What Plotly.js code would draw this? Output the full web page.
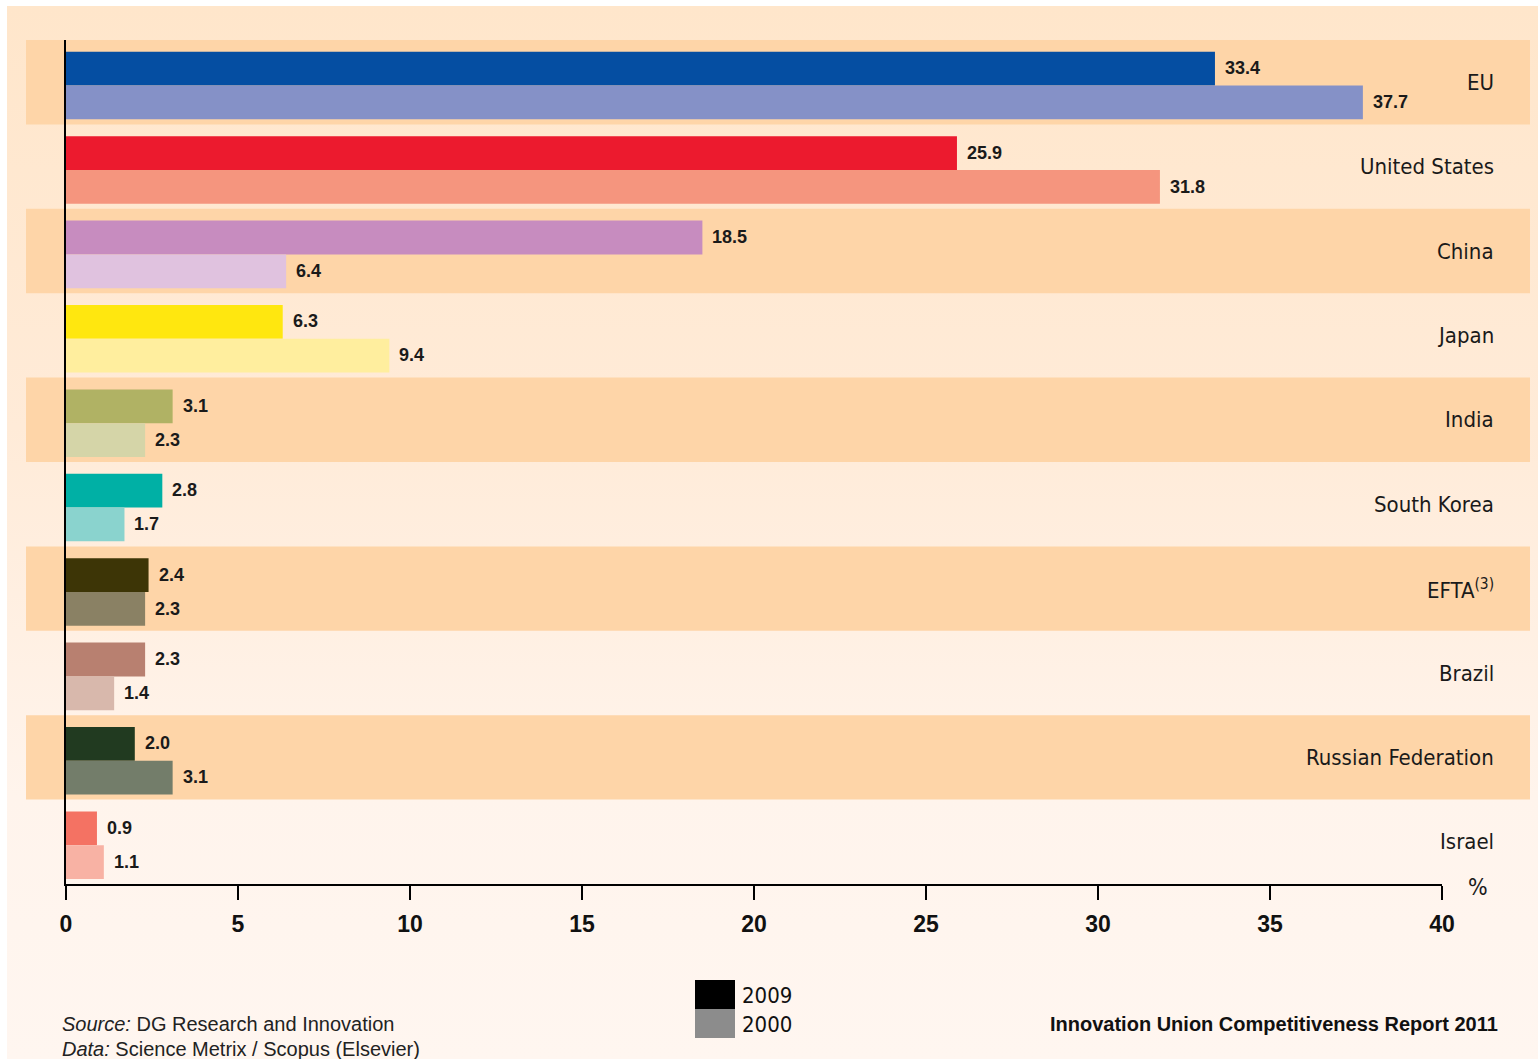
<!DOCTYPE html>
<html>
<head>
<meta charset="utf-8">
<script src="https://cdn.plot.ly/plotly-3.0.1.min.js"></script>
<style>
  html, body { margin: 0; padding: 0; background: #ffffff; }
  #wrap { position: relative; width: 1538px; height: 1059px; overflow: hidden; background: #ffffff; }
  #bg { position: absolute; left: 7px; top: 6px; right: 0; bottom: 0;
        background: linear-gradient(to bottom, #FFE6CB 0%, #FFEBD8 40%, #FFF4EC 75%, #FFF6F0 100%); }
  #chart { position: absolute; left: 0; top: 0; width: 1538px; height: 1059px; }
</style>
</head>
<body>
<div id="wrap">
  <div id="bg"></div>
  <div id="chart"></div>
</div>
<script>
// ---- data ----
const categories = ["EU", "United States", "China", "Japan", "India", "South Korea", "EFTA", "Brazil", "Russian Federation", "Israel"];
const categoryLabels = ["EU", "United States", "China", "Japan", "India", "South Korea", "EFTA<sup>(3)</sup>", "Brazil", "Russian Federation", "Israel"];
const values2009 = [33.4, 25.9, 18.5, 6.3, 3.1, 2.8, 2.4, 2.3, 2.0, 0.9];
const values2000 = [37.7, 31.8, 6.4, 9.4, 2.3, 1.7, 2.3, 1.4, 3.1, 1.1];
const colors2009 = ["#054EA2", "#EC1A2E", "#C78CBF", "#FFE70F", "#B0B264", "#00B0A5", "#3D3506", "#B88070", "#213A20", "#F47263"];
const colors2000 = ["#8591C7", "#F5957E", "#E0C2DF", "#FFEE9E", "#D5D5A8", "#8AD3CE", "#8A8164", "#D8B8AC", "#737D6A", "#F8B2A4"];
const xTicks = [0, 5, 10, 15, 20, 25, 30, 35, 40];
const legendYears = ["2009", "2000"];
const legendColors = ["#000000", "#8C8C8C"];

const condensed = "'Liberation Sans Narrow', 'DejaVu Sans Condensed', 'Roboto Condensed', sans-serif";
const sans = "'Liberation Sans', Arial, sans-serif";

const traces = [
  {
    type: "bar", orientation: "h", name: legendYears[0],
    y: categories, x: values2009, width: 0.4, offset: -0.36,
    marker: { color: colors2009, line: { width: 0 } },
    hoverinfo: "x+y", showlegend: false
  },
  {
    type: "bar", orientation: "h", name: legendYears[1],
    y: categories, x: values2000, width: 0.4, offset: 0.04,
    marker: { color: colors2000, line: { width: 0 } },
    hoverinfo: "x+y", showlegend: false
  }
];

const shapes = [];
const annotations = [];

// alternating background bands
categories.forEach((c, i) => {
  if (i % 2 === 0) {
    shapes.push({
      type: "rect", layer: "below", xref: "paper", yref: "y",
      x0: -40 / 1376, x1: 1464 / 1376, y0: i - 0.5, y1: i + 0.5,
      fillcolor: "#FED5A8", line: { width: 0 }
    });
  }
  // category label on right
  annotations.push({
    xref: "paper", yref: "y", x: 1430 / 1376, y: c, xanchor: "right", yanchor: "middle",
    text: categoryLabels[i], showarrow: false,
    font: { family: condensed, size: 22, color: "#1a1a1a" }
  });
  // value labels
  annotations.push({
    xref: "x", yref: "y", x: values2009[i], y: c, xanchor: "left", yanchor: "middle",
    xshift: 8, yshift: 14, text: values2009[i].toFixed(1), showarrow: false,
    font: { family: sans, size: 18, color: "#1a1a1a", weight: "bold" }
  });
  annotations.push({
    xref: "x", yref: "y", x: values2000[i], y: c, xanchor: "left", yanchor: "middle",
    xshift: 8, yshift: -20, text: values2000[i].toFixed(1), showarrow: false,
    font: { family: sans, size: 18, color: "#1a1a1a", weight: "bold" }
  });
});

// % unit label
annotations.push({
  xref: "paper", yref: "paper", x: 1412 / 1376, y: -3 / 844, xanchor: "center", yanchor: "middle",
  text: "%", showarrow: false, font: { family: condensed, size: 23, color: "#1a1a1a" }
});

// legend boxes + labels
legendYears.forEach((yr, k) => {
  const top = 980 + k * 29, bot = top + 29;
  shapes.push({
    type: "rect", xref: "paper", yref: "paper",
    x0: (695 - 66) / 1376, x1: (735 - 66) / 1376,
    y0: (884 - bot) / 844, y1: (884 - top) / 844,
    fillcolor: legendColors[k], line: { width: 0 }
  });
  annotations.push({
    xref: "paper", yref: "paper", x: (740 - 66) / 1376, y: (884 - (top + 15)) / 844,
    xanchor: "left", yanchor: "middle", text: yr, showarrow: false,
    font: { family: condensed, size: 22, color: "#111" }
  });
});

// source notes
annotations.push({
  xref: "paper", yref: "paper", x: (60 - 66) / 1376, y: (884 - 1024) / 844,
  xanchor: "left", yanchor: "middle", showarrow: false,
  text: "<i>Source:</i> DG Research and Innovation",
  font: { family: sans, size: 20, color: "#222" }
});
annotations.push({
  xref: "paper", yref: "paper", x: (60 - 66) / 1376, y: (884 - 1049) / 844,
  xanchor: "left", yanchor: "middle", showarrow: false,
  text: "<i>Data:</i> Science Metrix / Scopus (Elsevier)",
  font: { family: sans, size: 20, color: "#222" }
});
annotations.push({
  xref: "paper", yref: "paper", x: (1500 - 66) / 1376, y: (884 - 1024) / 844,
  xanchor: "right", yanchor: "middle", showarrow: false,
  text: "Innovation Union Competitiveness Report 2011",
  font: { family: sans, size: 20, color: "#111", weight: "bold" }
});

const layout = {
  width: 1538, height: 1059,
  margin: { l: 66, r: 96, t: 40, b: 175, pad: 0 },
  paper_bgcolor: "rgba(0,0,0,0)",
  plot_bgcolor: "rgba(0,0,0,0)",
  barmode: "group", bargap: 0.19, bargroupgap: 0,
  showlegend: false,
  xaxis: {
    range: [0, 40], tickvals: xTicks, ticktext: xTicks.map(String),
    ticks: "outside", ticklen: 14, tickwidth: 2, tickcolor: "#000",
    showline: true, linecolor: "#000", linewidth: 2,
    showgrid: false, zeroline: false, fixedrange: true,
    ticklabelstandoff: 4,
    tickfont: { family: sans, size: 23, color: "#111", weight: "bold" }
  },
  yaxis: {
    type: "category", autorange: "reversed",
    showticklabels: false, ticks: "", showgrid: false, zeroline: false,
    showline: true, linecolor: "#000", linewidth: 2, fixedrange: true
  },
  shapes: shapes,
  annotations: annotations
};

Plotly.newPlot("chart", traces, layout, { displayModeBar: false, staticPlot: false });
</script>
</body>
</html>
